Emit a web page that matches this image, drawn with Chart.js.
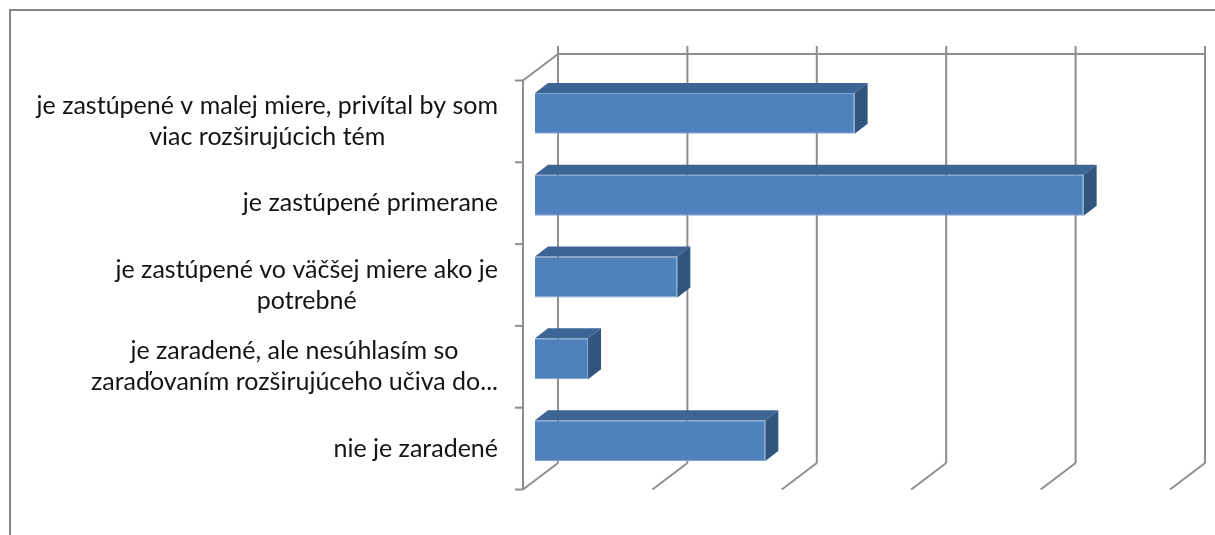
<!DOCTYPE html>
<html>
<head>
<meta charset="utf-8">
<script src="https://cdn.jsdelivr.net/npm/chart.js@4/dist/chart.umd.min.js"></script>
<style>
    body { margin: 0; background: #fff; }
    #wrap { width: 1215px; height: 535px; position: relative; }
</style>
</head>
<body>
<div id="wrap"><canvas id="chart"></canvas></div>
<script>
const categories = [
    ["je zastúpené v malej miere, privítal by som", "viac rozširujúcich tém"],
    ["je zastúpené primerane"],
    ["je zastúpené vo väčšej miere ako je", "potrebné"],
    ["je zaradené, ale nesúhlasím so", "zaraďovaním rozširujúceho učiva do..."],
    ["nie je zaradené"]
]
const values = [24.7, 42.4, 11.0, 4.1, 17.8]
const gridValues = [0, 10, 20, 30, 40, 50]

// 3d offsets, measured from the bar front plane
const backDx = 23, backDy = -18.5
const frontDx = -12, frontDy = 8
const depthDx = 13, depthDy = -10

const gridColor = "#8e8e8e"

function line(ctx, x1, y1, x2, y2) {
    ctx.beginPath()
    ctx.moveTo(x1, y1)
    ctx.lineTo(x2, y2)
    ctx.stroke()
}

function poly(ctx, pts, color) {
    ctx.beginPath()
    ctx.moveTo(pts[0][0], pts[0][1])
    for (let i = 1; i < pts.length; i++) ctx.lineTo(pts[i][0], pts[i][1])
    ctx.closePath()
    ctx.fillStyle = color
    ctx.fill()
}

const bar3d = {
    id: "bar3d",
    beforeDraw(chart) {
        const ctx = chart.ctx
        ctx.save()
        ctx.strokeStyle = "#868686"
        ctx.lineWidth = 2
        ctx.beginPath()
        ctx.moveTo(10, 535)
        ctx.lineTo(10, 10)
        ctx.lineTo(1215, 10)
        ctx.stroke()
        ctx.restore()
    },
    beforeDatasetsDraw(chart) {
        const ctx = chart.ctx
        const area = chart.chartArea
        const xs = chart.scales.x
        const ys = chart.scales.y
        const backTop = area.top + backDy
        const backBottom = area.bottom + backDy
        ctx.save()
        ctx.strokeStyle = gridColor
        ctx.lineWidth = 2

        // back wall + floor
        gridValues.forEach(v => {
            const px = xs.getPixelForValue(v)
            line(ctx, px + backDx, backTop - 8, px + backDx, backBottom)
            line(ctx, px + backDx, backBottom, px + frontDx, area.bottom + frontDy)
        })
        const x0 = xs.getPixelForValue(gridValues[0])
        const xN = xs.getPixelForValue(gridValues[gridValues.length - 1])
        line(ctx, x0 + backDx, backTop, xN + backDx, backTop)

        // left side wall
        const fx = x0 + frontDx
        line(ctx, fx, area.top + frontDy, fx, area.bottom + frontDy)
        line(ctx, fx, area.top + frontDy, x0 + backDx, backTop)
        for (let i = 0; i <= categories.length; i++) {
            const y = ys.getPixelForValue(i - 0.5) + frontDy
            line(ctx, fx - 8, y, fx, y)
        }
        ctx.restore()
    },
    afterDatasetsDraw(chart) {
        const ctx = chart.ctx
        const meta = chart.getDatasetMeta(0)
        ctx.save()
        meta.data.forEach(el => {
            const { x, y, base, height } = el.getProps(["x", "y", "base", "height"], true)
            const top = y - height / 2
            const bottom = y + height / 2
            poly(ctx, [[base, top], [x, top], [x + depthDx, top + depthDy], [base + depthDx, top + depthDy]], "#3c6494")
            poly(ctx, [[x, top], [x + depthDx, top + depthDy], [x + depthDx, bottom + depthDy], [x, bottom]], "#30557f")
        })
        ctx.restore()
    },
    afterDraw(chart) {
        // category labels: block right-aligned, lines centred inside the block
        const ctx = chart.ctx
        const ys = chart.scales.y
        const xs = chart.scales.x
        const right = xs.getPixelForValue(0) + frontDx - 25
        const lh = 31
        ctx.save()
        ctx.font = "25px Lato"
        ctx.fillStyle = "#141414"
        ctx.textAlign = "center"
        ctx.textBaseline = "middle"
        categories.forEach((lines, i) => {
            const w = Math.max(...lines.map(t => ctx.measureText(t).width))
            const cx = right - w / 2
            const cy = ys.getPixelForValue(i) + frontDy
            lines.forEach((t, j) => {
                ctx.fillText(t, cx, cy + (j - (lines.length - 1) / 2) * lh)
            })
        })
        ctx.restore()
    }
}

new Chart(document.getElementById("chart"), {
    type: "bar",
    data: {
        labels: categories,
        datasets: [{
            data: values,
            backgroundColor: "#4f81bd",
            borderColor: "#7fa3d2",
            borderWidth: 1,
            barPercentage: 0.5,
            categoryPercentage: 1
        }]
    },
    options: {
        indexAxis: "y",
        responsive: true,
        maintainAspectRatio: false,
        animation: false,
        layout: { padding: { left: 535, right: 33, top: 72.5, bottom: 53.5 } },
        scales: {
            x: { display: false, min: 0, max: 50 },
            y: { display: false }
        },
        plugins: {
            legend: { display: false },
            tooltip: { enabled: false }
        }
    },
    plugins: [bar3d]
})
</script>
</body>
</html>
